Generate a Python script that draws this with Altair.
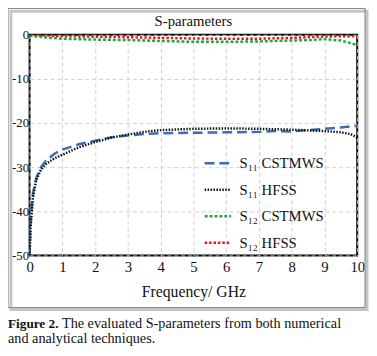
import altair as alt
import pandas as pd

series_names = ["S₁₁ CSTMWS", "S₁₁ HFSS", "S₁₂ CSTMWS", "S₁₂ HFSS"]
series_colors = ["#3a6db3", "#111111", "#1fa83c", "#e8161c"]
series_dashes = [[10, 5], [1.5, 1.5], [3, 2], [2.5, 2]]

s11_cst_f = [0, 0.03, 0.1, 0.2, 0.35, 0.5, 0.75, 1, 1.5, 2, 2.5, 3, 3.5, 4, 5, 6, 7, 7.5, 8, 8.5, 9, 9.5, 10]
s11_cst_v = [-50, -42, -36, -32.5, -30, -28.5, -27, -26, -24.8, -24, -23.2, -22.8, -22.5, -22.3, -22.2, -22.1, -22.0, -21.8, -21.9, -21.6, -21.3, -21.0, -20.6]

s11_hfss_f = [0, 0.03, 0.1, 0.2, 0.35, 0.5, 0.75, 1, 1.5, 2, 2.5, 3, 3.5, 4, 5, 6, 7, 8, 9, 9.5, 9.8, 10]
s11_hfss_v = [-50, -44, -37, -33, -30.5, -29.3, -28, -27.2, -25.5, -24.3, -23.3, -22.6, -22.0, -21.6, -21.3, -21.2, -21.3, -21.5, -21.8, -22.1, -22.5, -23.3]

s12_cst_f = [0, 0.5, 1, 2, 3, 4, 5, 6, 7, 8, 8.5, 9, 9.5, 10]
s12_cst_v = [-0.2, -0.6, -0.9, -1.1, -1.2, -1.4, -1.6, -1.6, -1.5, -1.3, -1.2, -1.0, -1.3, -2.3]

s12_hfss_f = [0, 1, 2, 3, 4, 5, 6, 7, 8, 9, 10]
s12_hfss_v = [0.0, -0.3, -0.45, -0.55, -0.7, -0.85, -0.9, -0.9, -0.7, -0.4, -0.3]

x_ticks = [0, 1, 2, 3, 4, 5, 6, 7, 8, 9, 10]
y_ticks = [0, -10, -20, -30, -40, -50]

chart_title = "S-parameters"
caption_bold = "Figure 2."
caption_line1 = "The evaluated S-parameters from both numerical"
caption_line2 = "and analytical techniques."

rows = []
for name, fs, vs in zip(series_names,
                        [s11_cst_f, s11_hfss_f, s12_cst_f, s12_hfss_f],
                        [s11_cst_v, s11_hfss_v, s12_cst_v, s12_hfss_v]):
    for i, (f, v) in enumerate(zip(fs, vs)):
        rows.append({"series": name, "f": f, "v": v, "order": i})
df = pd.DataFrame(rows)

W, H = 334, 225
SERIF = "Liberation Serif"

leg = dict(title=None, orient="none", legendX=177, legendY=116,
           symbolType="stroke", symbolSize=729, symbolStrokeWidth=2.5,
           labelFont=SERIF, labelFontSize=15, labelColor="#111",
           rowPadding=4, labelOffset=7)

lines = alt.Chart(df).mark_line(strokeWidth=2.5, clip=True).encode(
    x=alt.X("f:Q", scale=alt.Scale(domain=[0, 10], nice=False),
            axis=alt.Axis(values=x_ticks, title="Frequency/ GHz", grid=True,
                          gridDash=[4, 3], gridColor="#cfcfcf", ticks=False, domain=False,
                          labelFont=SERIF, labelFontSize=15, labelColor="#111",
                          labelPadding=4, titleFont=SERIF, titleFontSize=16,
                          titleFontWeight="normal", titleColor="#111", titlePadding=10,
                          labelFlush=False)),
    y=alt.Y("v:Q", scale=alt.Scale(domain=[-50, 0], nice=False),
            axis=alt.Axis(values=y_ticks, title=None, grid=True, gridDash=[4, 3],
                          gridColor="#cfcfcf", ticks=False, domain=False,
                          labelFont=SERIF, labelFontSize=13, labelColor="#111",
                          labelPadding=1, labelExpr="datum.value == 0 ? '0' : '-' + abs(datum.value)")),
    color=alt.Color("series:N", scale=alt.Scale(domain=series_names, range=series_colors),
                    legend=alt.Legend(**leg)),
    strokeDash=alt.StrokeDash("series:N", scale=alt.Scale(domain=series_names, range=series_dashes),
                              legend=alt.Legend(**leg)),
    order="order:Q",
)

one = pd.DataFrame({"k": [0]})
shadow = alt.Chart(one).mark_rect(fill=None, stroke="#c4c4c4", strokeWidth=3).encode(
    x=alt.value(-19), x2=alt.value(W + 10), y=alt.value(-24), y2=alt.value(H + 55))
frame = alt.Chart(one).mark_rect(fill=None, stroke="#8a8a8a", strokeWidth=1.2).encode(
    x=alt.value(-22), x2=alt.value(W + 8), y=alt.value(-27), y2=alt.value(H + 53))

title = alt.Chart(pd.DataFrame({"t": [chart_title]})).mark_text(
    font=SERIF, fontSize=15, align="center", baseline="middle", color="#111").encode(
    x=alt.value(W / 2), y=alt.value(-14), text="t:N")

cap_bold = alt.Chart(pd.DataFrame({"t": [caption_bold]})).mark_text(
    font=SERIF, fontSize=13.5, fontWeight="bold", align="left", baseline="middle",
    color="#111").encode(x=alt.value(-22), y=alt.value(H + 70), text="t:N")
cap1 = alt.Chart(pd.DataFrame({"t": [caption_line1]})).mark_text(
    font=SERIF, fontSize=14.5, align="left", baseline="middle", color="#111").encode(
    x=alt.value(33), y=alt.value(H + 70), text="t:N")
cap2 = alt.Chart(pd.DataFrame({"t": [caption_line2]})).mark_text(
    font=SERIF, fontSize=14.5, align="left", baseline="middle", color="#111").encode(
    x=alt.value(-22), y=alt.value(H + 85), text="t:N")

chart = alt.layer(shadow, frame, lines, title, cap_bold, cap1, cap2).properties(
    width=W, height=H,
    padding={"left": 22, "top": 24, "right": 12, "bottom": 91},
    autosize=alt.AutoSizeParams(type="none"),
).configure_view(stroke="#000", strokeWidth=2)

chart.save("out.html", embed_options={"renderer": "svg", "actions": False})
